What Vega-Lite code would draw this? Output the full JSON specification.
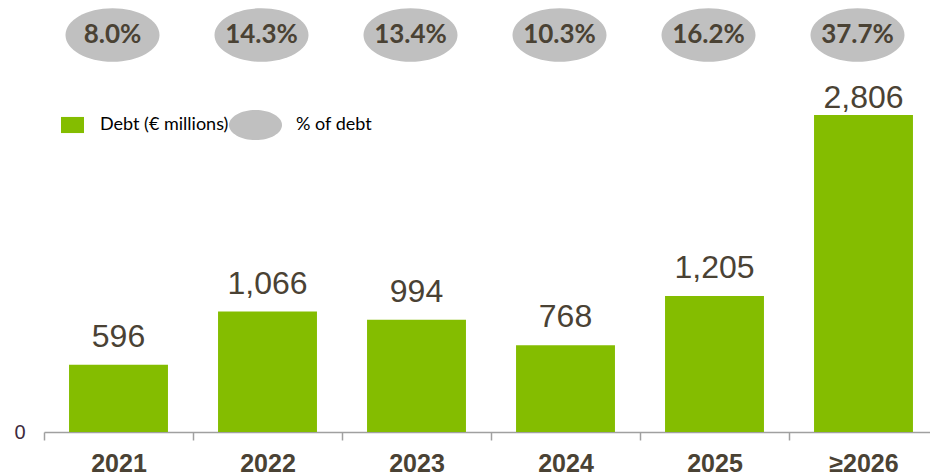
{
  "$schema": "https://vega.github.io/schema/vega-lite/v6.json",
  "width": 886,
  "height": 427,
  "autosize": {"type": "none"},
  "padding": {"left": 44, "top": 5, "right": 0, "bottom": 43},
  "background": "white",
  "config": {
    "view": {"stroke": null},
    "font": "Liberation Sans",
    "axisY": {"labelFont": "Liberation Sans", "labelFontSize": 20, "labelColor": "#3d2a3d", "labelPadding": 19, "domain": false, "ticks": false, "grid": false}
  },
  "data": {"values": [
    {"year": "2021", "debt": 596, "share": 0.080},
    {"year": "2022", "debt": 1066, "share": 0.143},
    {"year": "2023", "debt": 994, "share": 0.134},
    {"year": "2024", "debt": 768, "share": 0.103},
    {"year": "2025", "debt": 1205, "share": 0.162},
    {"year": "≥2026", "debt": 2806, "share": 0.377}
  ]},
  "encoding": {
    "x": {
      "field": "year", "type": "nominal", "sort": null,
      "scale": {"range": [0, 894], "paddingInner": 0.336, "paddingOuter": 0.168},
      "axis": {
        "title": null, "labelAngle": 0, "labelFont": "Liberation Sans", "labelFontWeight": "bold",
        "labelFontSize": 25, "labelColor": "#4a4234", "labelBaseline": "alphabetic", "labelPadding": 31,
        "tickSize": 8, "tickColor": "#a0a0a0", "domainColor": "#a0a0a0",
        "tickOffset": -74.5, "labelOffset": 74.5, "tickExtra": true,
        "tickWidth": 1.5, "domainWidth": 1.5, "grid": false
      }
    }
  },
  "layer": [
    {
      "mark": {"type": "bar", "color": "#84bd00"},
      "encoding": {
        "y": {
          "field": "debt", "type": "quantitative",
          "scale": {"domain": [0, 3780], "nice": false},
          "axis": {"title": null, "values": [0], "domain": false, "ticks": false, "grid": false,
                   "labelFont": "Liberation Sans", "labelFontSize": 20, "labelColor": "#3d2a3d", "labelPadding": 19}
        },
        "color": {
          "datum": "Debt (€ millions)",
          "scale": {"range": ["#84bd00"]},
          "legend": {
            "orient": "none", "legendX": 17, "legendY": 108.5, "title": null,
            "symbolType": "M-1,-0.7H1V0.7H-1Z", "symbolSize": 529, "symbolStrokeWidth": 0,
            "labelFont": "Lato", "labelFontSize": 18, "labelColor": "#000000", "labelOffset": 16, "padding": 0
          }
        }
      }
    },
    {
      "transform": [{"filter": "datum.year !== '≥2026'"}],
      "mark": {"type": "text", "font": "Liberation Sans", "fontSize": 32, "color": "#4a4234", "baseline": "alphabetic", "dy": -18},
      "encoding": {
        "y": {"field": "debt", "type": "quantitative"},
        "text": {"field": "debt", "type": "quantitative", "format": ","}
      }
    },
    {
      "transform": [{"filter": "datum.year === '≥2026'"}],
      "mark": {"type": "text", "font": "Liberation Sans", "fontSize": 32, "color": "#4a4234", "baseline": "alphabetic", "dy": -7},
      "encoding": {
        "y": {"field": "debt", "type": "quantitative"},
        "text": {"field": "debt", "type": "quantitative", "format": ","}
      }
    },
    {
      "mark": {"type": "point", "filled": true, "color": "#c0c0c0", "opacity": 1, "size": 8836, "xOffset": -6, "strokeWidth": 0},
      "encoding": {
        "y": {"datum": 3514},
        "shape": {
          "datum": "% of debt",
          "scale": {"range": ["M-1,0A1,0.57,0,1,1,1,0A1,0.57,0,1,1,-1,0Z"]},
          "legend": {
            "orient": "none", "legendX": 185, "legendY": 93.5, "title": null,
            "symbolSize": 2809, "symbolFillColor": "#c0c0c0", "symbolStrokeWidth": 0,
            "labelFont": "Lato", "labelFontSize": 18, "labelColor": "#000000", "labelOffset": 14, "padding": 0
          }
        }
      }
    },
    {
      "mark": {"type": "text", "font": "Lato", "fontWeight": "bold", "fontSize": 26, "color": "#4a4234", "baseline": "middle", "xOffset": -6},
      "encoding": {
        "y": {"datum": 3514},
        "text": {"field": "share", "type": "quantitative", "format": ".1%"}
      }
    }
  ]
}
